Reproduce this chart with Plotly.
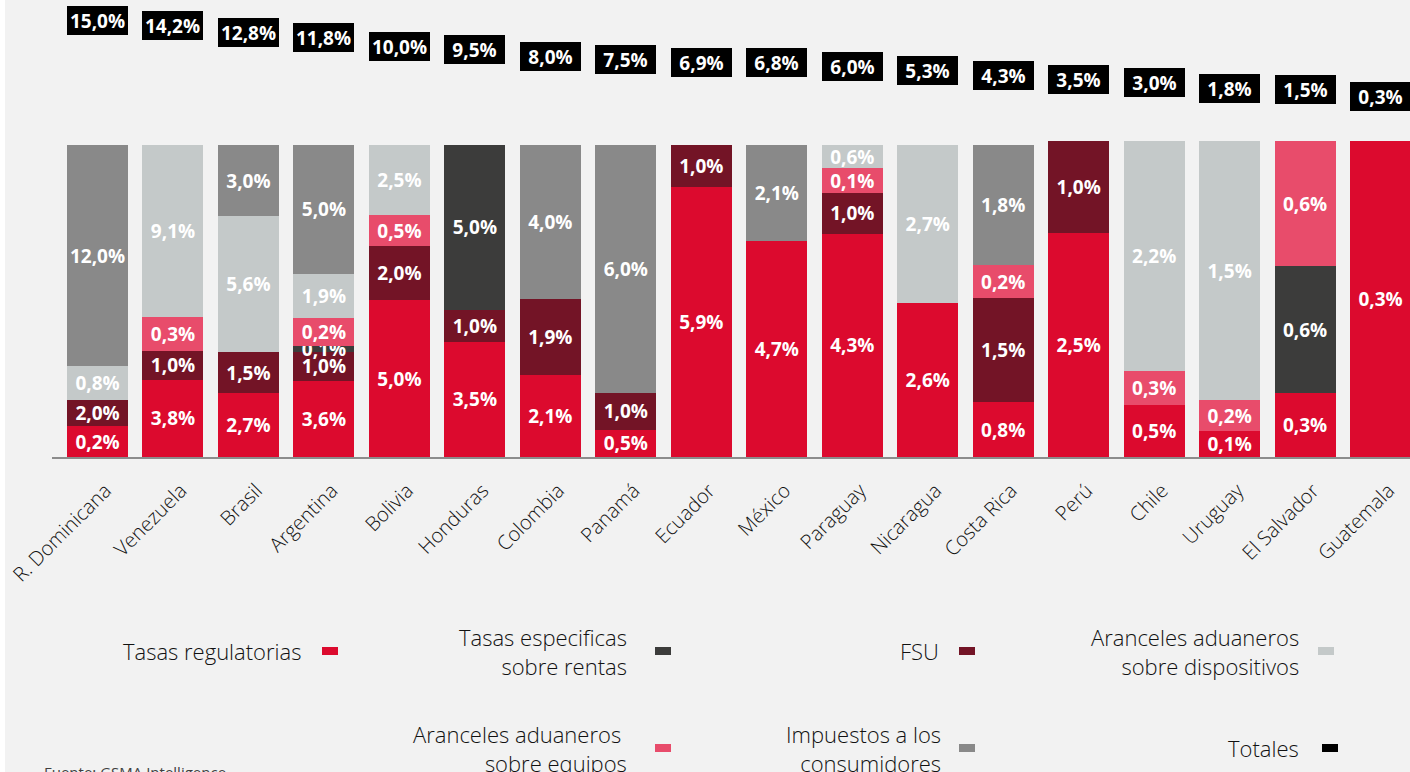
import plotly.graph_objects as go

countries = ['R. Dominicana', 'Venezuela', 'Brasil', 'Argentina', 'Bolivia', 'Honduras',
             'Colombia', 'Panamá', 'Ecuador', 'México', 'Paraguay', 'Nicaragua',
             'Costa Rica', 'Perú', 'Chile', 'Uruguay', 'El Salvador', 'Guatemala']

# Printed values (%)
tasas_regulatorias = [0.2, 3.8, 2.7, 3.6, 5.0, 3.5, 2.1, 0.5, 5.9, 4.7, 4.3, 2.6, 0.8, 2.5, 0.5, 0.1, 0.3, 0.3]
fsu = [2.0, 1.0, 1.5, 1.0, 2.0, 1.0, 1.9, 1.0, 1.0, None, 1.0, None, 1.5, 1.0, None, None, None, None]
tasas_rentas = [None, None, None, 0.1, None, 5.0, None, None, None, None, None, None, None, None, None, None, 0.6, None]
aranceles_equipos = [None, 0.3, None, 0.2, 0.5, None, None, None, None, None, 0.1, None, 0.2, None, 0.3, 0.2, 0.6, None]
aranceles_dispositivos = [0.8, 9.1, 5.6, 1.9, 2.5, None, None, None, None, None, 0.6, 2.7, None, None, 2.2, 1.5, None, None]
impuestos_consumidores = [12.0, None, 3.0, 5.0, None, None, 4.0, 6.0, None, 2.1, None, None, 1.8, None, None, None, None, None]
totales = [15.0, 14.2, 12.8, 11.8, 10.0, 9.5, 8.0, 7.5, 6.9, 6.8, 6.0, 5.3, 4.3, 3.5, 3.0, 1.8, 1.5, 0.3]

# Drawn segment heights, % of column (the source columns are not strictly proportional)
tasas_regulatorias_h = [9.9, 24.7, 20.5, 24.4, 50.3, 36.9, 26.3, 8.7, 86.5, 69.2, 71.5, 49.4, 17.6, 71.8, 16.7, 8.3, 20.5, 101.3]
fsu_h = [8.3, 9.3, 13.1, 9.3, 17.3, 10.3, 24.4, 11.9, 13.5, None, 13.1, None, 33.3, 29.5, None, None, None, None]
tasas_rentas_h = [None, None, None, 1.9, None, 52.9, None, None, None, None, None, None, None, None, None, None, 40.7, None]
aranceles_equipos_h = [None, 10.9, None, 9.0, 9.9, None, None, None, None, None, 8.0, None, 10.6, None, 10.9, 9.9, 40.1, None]
aranceles_dispositivos_h = [10.9, 55.1, 43.6, 14.1, 22.4, None, None, None, None, None, 7.4, 50.6, None, None, 73.7, 83.0, None, None]
impuestos_consumidores_h = [70.8, None, 22.8, 41.3, None, None, 49.4, 79.5, None, 30.8, None, None, 38.5, None, None, None, None, None]

RED = '#DC0A2E'
RENTAS = '#3C3C3B'
FSU = '#731426'
PINK = '#E84C6B'
LGRAY = '#C4C9C9'
GRAY = '#898989'
BLACK = '#000000'

W_FIG, H_FIG = 1410, 772
M_L, M_R, M_T, M_B = 52, 0, 10, 315
PLOT_W = W_FIG - M_L - M_R
PLOT_H = H_FIG - M_T - M_B
LIGHT_FONT = dict(family='Open Sans', color='#111111', weight=300)


def fmt(v):
    return '' if v is None else f'{v:.1f}'.replace('.', ',') + '%'


def paper_x(px):
    return (px - M_L) / PLOT_W


def paper_y(py):
    return (H_FIG - M_B - py) / PLOT_H


series = [
    ('Tasas regulatorias', tasas_regulatorias, tasas_regulatorias_h, RED),
    ('FSU', fsu, fsu_h, FSU),
    ('Tasas especificas sobre rentas', tasas_rentas, tasas_rentas_h, RENTAS),
    ('Aranceles aduaneros sobre equipos', aranceles_equipos, aranceles_equipos_h, PINK),
    ('Aranceles aduaneros sobre dispositivos', aranceles_dispositivos, aranceles_dispositivos_h, LGRAY),
    ('Impuestos a los consumidores', impuestos_consumidores, impuestos_consumidores_h, GRAY),
]

fig = go.Figure()
for name, vals, heights, color in series:
    fig.add_trace(go.Bar(
        x=countries, y=heights, name=name, marker=dict(color=color, line=dict(width=0)),
        text=[fmt(v) for v in vals], textposition='inside', insidetextanchor='middle',
        textangle=0, textfont=dict(family='Open Sans', size=19, color='white', weight='bold'),
        showlegend=False, hoverinfo='skip'))

# Totals on a hidden secondary axis, shown as black label boxes
fig.add_trace(go.Scatter(x=countries, y=totales, yaxis='y2', mode='markers',
                         marker=dict(opacity=0), showlegend=False, hoverinfo='skip'))
for c, t in zip(countries, totales):
    fig.add_annotation(x=c, y=t, xref='x', yref='y2', text=fmt(t), showarrow=False,
                       font=dict(family='Open Sans', size=19, color='white', weight='bold'),
                       bgcolor=BLACK, width=61, height=29, borderpad=0, borderwidth=0,
                       xanchor='center', yanchor='middle', valign='middle')

# Custom legend: text right-aligned, swatch to the right
legend_items = [
    ('Tasas regulatorias', RED, 303, 322, 651),
    ('Tasas especificas<br>sobre rentas', RENTAS, 629, 655, 651),
    ('FSU', FSU, 941, 959, 651),
    ('Aranceles aduaneros<br>sobre dispositivos', LGRAY, 1301, 1318, 651),
    ('Aranceles aduaneros <br>sobre equipos', PINK, 629, 655, 748),
    ('Impuestos a los<br>consumidores', GRAY, 943, 959, 748),
    ('Totales', BLACK, 1301, 1322, 748),
]
for text, color, tx, sx, ry in legend_items:
    fig.add_annotation(x=paper_x(tx), y=paper_y(ry), xref='paper', yref='paper', text=text,
                       showarrow=False, xanchor='right', yanchor='middle', align='right',
                       font=dict(LIGHT_FONT, size=22))
    fig.add_shape(type='rect', xref='paper', yref='paper',
                  x0=paper_x(sx), x1=paper_x(sx + 16), y0=paper_y(ry + 4), y1=paper_y(ry - 4),
                  fillcolor=color, line=dict(width=0))

# source note, mostly below the bottom edge as in the original crop
fig.add_annotation(x=paper_x(42), y=paper_y(760), xref='paper', yref='paper',
                   text='Fuente: GSMA Intelligence', showarrow=False,
                   xanchor='left', yanchor='top',
                   font=dict(family='Open Sans', size=15, color='#404040'))

# thin white strip on the left edge
fig.add_shape(type='rect', xref='paper', yref='paper', x0=paper_x(0), x1=paper_x(5),
              y0=paper_y(H_FIG), y1=paper_y(0), fillcolor='white', line=dict(width=0), layer='below')

fig.update_layout(
    width=W_FIG, height=H_FIG,
    margin=dict(l=M_L, r=M_R, t=M_T, b=M_B, pad=0),
    paper_bgcolor='#F2F2F2', plot_bgcolor='#F2F2F2',
    barmode='stack', bargap=0.192,
    uniformtext=dict(minsize=19, mode='show'),
    xaxis=dict(range=[-0.603, 17.39], showline=True, linecolor='#8c8c8c', linewidth=2,
               showgrid=False, zeroline=False, ticks='', tickangle=-45,
               ticklabelstandoff=12, ticklabelshift=8,
               tickfont=dict(LIGHT_FONT, size=20)),
    yaxis=dict(range=[0, PLOT_H / 3.12], visible=False, showgrid=False, zeroline=False),
    yaxis2=dict(range=[-70.43, 17.15], overlaying='y', visible=False, showgrid=False, zeroline=False),
)

# drop the default page margin so the figure sits at the window corner
fig.write_html('out.html', config={'displayModeBar': False},
               post_script="document.body.style.margin = '0';")
